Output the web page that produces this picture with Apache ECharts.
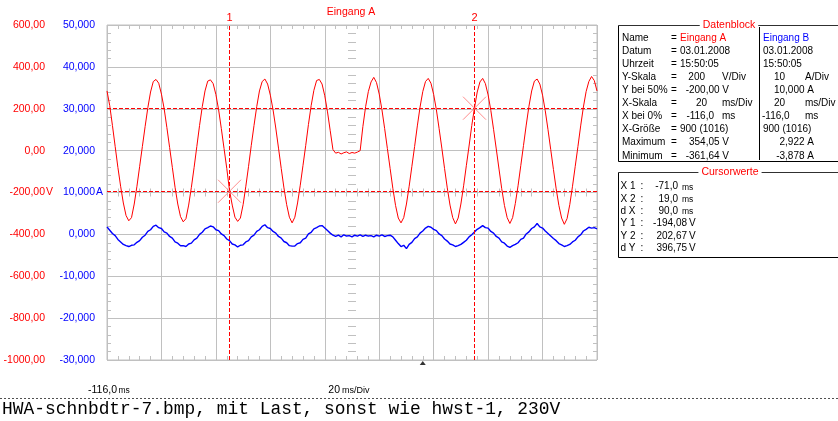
<!DOCTYPE html>
<html><head><meta charset="utf-8">
<script src="https://cdn.jsdelivr.net/npm/echarts@6.0.0/dist/echarts.min.js"></script>
<style>html,body{margin:0;padding:0;background:#fff}#c{width:838px;height:421px}</style>
</head><body><div id="c"></div>
<script>
// ---- data ----
const sampleStartMs = -116;
const sampleStepMs = 1;
const eingangA_V = [
  285, 215, 120, 20, -80, -170, -250, -310, -335, -320,
  -255, -170, -75, 20, 115, 205, 280, 330, 340, 322,
  270, 200, 110, 15, -80, -175, -255, -315, -340, -325,
  -260, -175, -80, 20, 120, 210, 285, 332, 338, 320,
  268, 195, 105, 10, -85, -190, -260, -318, -338, -322,
  -258, -170, -75, 25, 120, 210, 285, 330, 342, 318,
  265, 195, 108, 12, -85, -178, -258, -318, -345, -318,
  -250, -165, -70, 25, 125, 215, 288, 335, 340, 318,
  262, 185, 95, 5, -12, -8, -16, -10, -6, -14,
  -9, -12, -7, 0, 115, 210, 282, 328, 350, 325,
  270, 195, 105, 10, -85, -180, -262, -322, -345, -320,
  -255, -170, -75, 20, 118, 208, 282, 330, 345, 322,
  268, 195, 105, 12, -85, -178, -260, -320, -350, -322,
  -255, -168, -72, 22, 120, 205, 280, 328, 345, 320,
  266, 192, 102, 8, -88, -182, -262, -320, -348, -320,
  -252, -168, -72, 25, 122, 212, 285, 332, 342, 318,
  265, 190, 100, 5, -90, -182, -262, -322, -352, -325,
  -258, -170, -75, 20, 118, 208, 282, 330, 354, 335,
  285
];
const eingangB_A = [
  1.8, 1.0, 0.2, -0.3, -1.2, -1.8, -2.4, -2.7, -2.9, -2.6,
  -2.5, -1.9, -1.5, -0.7, -0.2, 0.7, 1.1, 1.9, 2.2, 1.6,
  1.4, 0.6, 0.3, -0.5, -0.9, -1.8, -2.1, -2.7, -2.7, -2.9,
  -2.3, -2.1, -1.3, -0.9, 0.0, 0.5, 1.3, 1.6, 2.0, 1.8,
  1.1, 0.9, 0.1, -0.3, -1.1, -1.5, -2.3, -2.5, -3.0, -2.6,
  -2.5, -1.8, -1.5, -0.6, -0.2, 0.7, 1.1, 1.9, 2.3, 1.6,
  1.4, 0.7, 0.3, -0.5, -0.9, -1.7, -2.0, -2.7, -2.8, -2.8,
  -2.2, -2.0, -1.2, -0.9, 0.1, 0.5, 1.3, 1.6, 2.0, 2.1,
  1.5, 0.9, 0.3, -0.2, -0.5, -0.2, -0.6, -0.1, -0.4, -0.3,
  -0.6, -0.2, -0.4, -0.1, -0.5, -0.2, -0.4, -0.3, -0.6, -0.2,
  -0.4, -0.1, -0.5, -0.3, -0.2, -0.6, -1.4, -2.2, -2.9, -2.6,
  -3.4, -2.4, -1.9, -1.0, -0.6, 0.3, 0.8, 1.5, 1.9, 1.7,
  1.2, 0.9, 0.1, -0.3, -1.1, -1.6, -2.3, -2.5, -2.9, -2.7,
  -2.4, -1.9, -1.4, -0.6, -0.1, 0.6, 1.2, 1.6, 2.1, 1.6,
  1.5, 0.7, 0.3, -0.5, -0.9, -1.8, -2.1, -2.8, -3.1, -2.7,
  -2.4, -2.0, -1.2, -0.9, 0.1, 0.6, 1.4, 1.8, 2.6, 1.8,
  1.5, 0.8, 0.2, -0.4, -1.0, -1.5, -2.2, -2.5, -2.9, -2.7,
  -2.4, -1.8, -1.4, -0.6, -0.1, 0.8, 1.2, 1.7, 1.5, 1.6,
  1.3
];
const xRangeMs = [-116, 64];
const xDivMs = 20;
const voltRange = [-1000, 600];
const voltDiv = 200;
const ampRange = [-30, 50];
const ampDiv = 10;
const voltUnitTick = -200;
const ampUnitTick = 10;
const cursorTimesMs = [-71, 19];
const cursorNames = ['1', '2'];
const cursorLevelsV = [-194.08, 202.67];
const triggerTimeMs = [0];
const chartTitle = 'Eingang A';
const xStartLabel = ['-116,0', 'ms'];
const xScaleLabel = ['20', 'ms/Div'];
const caption = 'HWA-schnbdtr-7.bmp, mit Last, sonst wie hwst-1, 230V';

const dbTitle = 'Datenblock';
const dbLabels = ['Name', 'Datum', 'Uhrzeit', 'Y-Skala', 'Y bei 50%', 'X-Skala', 'X bei 0%', 'X-Größe', 'Maximum', 'Minimum'];
const dbValuesA = ['Eingang A', '03.01.2008', '15:50:05', '200', '-200,00 V', '20', '-116,0', '900 (1016)', '354,05 V', '-361,64 V'];
const dbUnitsA = ['', '', '', 'V/Div', '', 'ms/Div', 'ms', '', '', ''];
const dbValuesB = ['Eingang B', '03.01.2008', '15:50:05', '10', '10,000 A', '20', '-116,0', '900 (1016)', '2,922 A', '-3,878 A'];
const dbUnitsB = ['', '', '', 'A/Div', '', 'ms/Div', 'ms', '', '', ''];
const cvTitle = 'Cursorwerte';
const cvLabels = ['X 1', 'X 2', 'd X', 'Y 1', 'Y 2', 'd Y'];
const cvValues = ['-71,0', '19,0', '90,0', '-194,08', '202,67', '396,75'];
const cvUnits = ['ms', 'ms', 'ms', 'V', 'V', 'V'];

// ---- styling / layout ----
const RED = '#ff0000', BLUE = '#0000ff', GRID = '#c0c0c0';
const FONT = '"Liberation Sans", Arial, sans-serif';
const PF = 10; // panel font size
const G = { left: 107, top: 25, width: 490, height: 335 };

const redData = eingangA_V.map((v, i) => [sampleStartMs + i * sampleStepMs, v]);
const blueData = eingangB_A.map((v, i) => [sampleStartMs + i * sampleStepMs, v]);

function fmt(v, d) { return v.toFixed(d).replace('.', ','); }

// tick-only axes (ruler marks, 5 per division)
function tickAxis(dim, grid, pos) {
  return {
    type: 'value', gridIndex: grid, position: pos, min: 0, max: dim === 'x' ? 45 : 40, interval: 1, silent: true,
    axisLine: { show: false, onZero: false },
    axisTick: { show: true, inside: true, length: 4, lineStyle: { color: GRID, width: 1 } },
    axisLabel: { show: false }, splitLine: { show: false }
  };
}
function hiddenAxis(grid) {
  return { type: 'value', gridIndex: grid, min: 0, max: 1, show: false, axisLine: { show: false, onZero: false } };
}

function text(x, y, s, color, size, align) {
  return {
    type: 'text', x: x, y: y, silent: true, z: 100,
    style: { text: s, fill: color, font: size + 'px ' + FONT, align: align || 'left', textAlign: align || 'left', verticalAlign: 'middle', textVerticalAlign: 'middle' }
  };
}
function line(x1, y1, x2, y2, color, dash) {
  return { type: 'line', silent: true, z: 90, shape: { x1, y1, x2, y2 }, style: { stroke: color, lineWidth: 1, lineDash: dash || null } };
}
function titled(t) { t.style.backgroundColor = '#fff'; t.style.padding = [0, 3]; return t; }

const gfx = [];
// Datenblock panel
gfx.push(line(618.5, 25.5, 838, 25.5, '#303030'));
gfx.push(line(618.5, 25.5, 618.5, 161.5, '#000'));
gfx.push(line(618.5, 161.5, 838, 161.5, '#000'));
gfx.push(line(759.5, 27, 759.5, 160, '#000'));
gfx.push(titled(text(729, 25, dbTitle, RED, 10.5, 'center')));
const aX = [680, 680, 680, 705, 729, 707, 714, 680, 729, 729];
const aAl = ['left', 'left', 'left', 'right', 'right', 'right', 'right', 'left', 'right', 'right'];
const bX = [763, 763, 763, 785, 814, 785, 762, 763, 814, 814];
const bAl = ['left', 'left', 'left', 'right', 'right', 'right', 'left', 'left', 'right', 'right'];
dbLabels.forEach((lab, i) => {
  const y = 38.3 + i * 13.05;
  gfx.push(text(622, y, lab, '#000', PF));
  gfx.push(text(671, y, '=', '#000', PF));
  gfx.push(text(aX[i], y, dbValuesA[i], i === 0 ? RED : '#000', PF, aAl[i]));
  if (dbUnitsA[i]) gfx.push(text(722, y, dbUnitsA[i], '#000', PF));
  gfx.push(text(bX[i], y, dbValuesB[i], i === 0 ? BLUE : '#000', PF, bAl[i]));
  if (dbUnitsB[i]) gfx.push(text(805, y, dbUnitsB[i], '#000', PF));
});
// Cursorwerte panel
gfx.push(line(618.5, 172.5, 838, 172.5, '#303030'));
gfx.push(line(618.5, 172.5, 618.5, 257.5, '#000'));
gfx.push(line(618.5, 257.5, 838, 257.5, '#000'));
gfx.push(titled(text(730, 172, cvTitle, RED, 10.5, 'center')));
cvLabels.forEach((lab, i) => {
  const y = 186.7 + i * 12.33;
  gfx.push(text(620.5, y, lab, '#000', PF));
  gfx.push(text(640.5, y, ':', '#000', PF));
  if (cvUnits[i] === 'ms') {
    gfx.push(text(678, y, cvValues[i], '#000', PF, 'right'));
    gfx.push(text(682, y + 0.5, cvUnits[i], '#000', 8.5));
  } else {
    gfx.push(text(687, y, cvValues[i], '#000', PF, 'right'));
    gfx.push(text(689, y, cvUnits[i], '#000', PF));
  }
});
// title, bottom labels, caption
gfx.push(text(351, 12.5, chartTitle, RED, 10.5, 'center'));
gfx.push(text(117, 390, xStartLabel[0], '#000', 10.5, 'right'));
gfx.push(text(118.5, 390.5, xStartLabel[1], '#000', 8.5));
gfx.push(text(340, 390, xScaleLabel[0], '#000', 10.5, 'right'));
gfx.push(text(342, 390.5, xScaleLabel[1], '#000', 9));
gfx.push(line(0, 398.5, 838, 398.5, '#505050', [2, 2]));
gfx.push({ type: 'text', x: 2, y: 409, silent: true, z: 100,
  style: { text: caption, fill: '#000', font: '17.9px "Liberation Mono", "Courier New", monospace', align: 'left', textAlign: 'left', verticalAlign: 'middle', textVerticalAlign: 'middle' } });

const midY = G.top + G.height / 2;   // centre row of the screen
const midX = G.left + G.width / 2;   // centre column of the screen

const option = {
  animation: false,
  backgroundColor: '#fff',
  grid: [
    Object.assign({ show: true, borderColor: GRID, borderWidth: 1, backgroundColor: '#fff', containLabel: false, outerBoundsMode: 'none' }, G),
    { left: G.left, width: G.width, top: midY - 4, height: 8, show: false, containLabel: false, outerBoundsMode: 'none' },
    { left: midX - 4, width: 8, top: G.top, height: G.height, show: false, containLabel: false, outerBoundsMode: 'none' }
  ],
  xAxis: [
    { type: 'value', gridIndex: 0, min: xRangeMs[0], max: xRangeMs[1], interval: xDivMs, position: 'bottom',
      axisLine: { show: false, onZero: false }, axisTick: { show: false }, axisLabel: { show: false },
      splitLine: { show: true, lineStyle: { color: GRID, width: 1 } } },
    tickAxis('x', 0, 'bottom'),
    tickAxis('x', 0, 'top'),
    tickAxis('x', 1, 'top'),
    tickAxis('x', 1, 'bottom'),
    hiddenAxis(2)
  ],
  yAxis: [
    { type: 'value', gridIndex: 0, position: 'left', offset: 50, min: voltRange[0], max: voltRange[1], interval: voltDiv,
      axisLine: { show: false, onZero: false }, axisTick: { show: false },
      splitLine: { show: true, lineStyle: { color: GRID, width: 1 } },
      axisLabel: { margin: 3, showMinLabel: true, showMaxLabel: true,
        formatter: v => '{n|' + fmt(v, 2) + '}{u|' + (v === voltUnitTick ? 'V' : '') + '}',
        rich: { n: { color: RED, fontSize: 10.5, fontFamily: FONT }, u: { color: RED, fontSize: 10.5, fontFamily: FONT, width: 9, align: 'left' } } } },
    { type: 'value', gridIndex: 0, position: 'left', offset: 0, min: ampRange[0], max: ampRange[1], interval: ampDiv,
      axisLine: { show: false, onZero: false }, axisTick: { show: false }, splitLine: { show: false },
      axisLabel: { margin: 3, showMinLabel: true, showMaxLabel: true,
        formatter: v => '{n|' + fmt(v, 3) + '}{u|' + (v === ampUnitTick ? 'A' : '') + '}',
        rich: { n: { color: BLUE, fontSize: 10.5, fontFamily: FONT }, u: { color: BLUE, fontSize: 10.5, fontFamily: FONT, width: 9, align: 'left' } } } },
    tickAxis('y', 0, 'left'),
    tickAxis('y', 0, 'right'),
    hiddenAxis(1),
    tickAxis('y', 2, 'left'),
    tickAxis('y', 2, 'right')
  ],
  graphic: { elements: gfx },
  series: [
    { type: 'line', name: 'Eingang A', xAxisIndex: 0, yAxisIndex: 0, data: redData, showSymbol: false, symbol: 'none',
      lineStyle: { color: RED, width: 1 }, z: 4, silent: true,
      markLine: { silent: true, symbol: ['none', 'none'], animation: false,
        lineStyle: { color: RED, width: 1, type: [4, 2] },
        data: cursorTimesMs.map((t, i) => ({ name: cursorNames[i], xAxis: t,
            label: { show: true, position: 'end', formatter: '{b}', color: RED, fontSize: 11, fontFamily: FONT, distance: 2 } }))
          .concat(cursorLevelsV.map(v => ({ yAxis: v, label: { show: false }, lineStyle: { color: RED, width: 1, type: [4, 2] } }))) } },
    { type: 'line', name: 'Eingang B', xAxisIndex: 0, yAxisIndex: 1, data: blueData, showSymbol: false, symbol: 'none',
      lineStyle: { color: BLUE, width: 1.4 }, z: 3, silent: true },
    { type: 'scatter', xAxisIndex: 0, yAxisIndex: 0, silent: true, z: 5,
      data: cursorTimesMs.map((t, i) => [t, cursorLevelsV[i]]),
      symbol: 'path://M0,0L20,20M20,0L0,20', symbolSize: 23,
      itemStyle: { color: 'rgba(0,0,0,0)', borderColor: '#ff7070', borderWidth: 1 } },
    { type: 'scatter', xAxisIndex: 0, yAxisIndex: 0, silent: true, z: 5, clip: false,
      data: triggerTimeMs.map(t => [t, voltRange[0]]),
      symbol: 'triangle', symbolSize: [6, 4], symbolOffset: [0, 3],
      itemStyle: { color: '#000' } }
  ]
};
const chart = echarts.init(document.getElementById('c'), null, { renderer: 'canvas' });
chart.setOption(option);
</script>
</body></html>
